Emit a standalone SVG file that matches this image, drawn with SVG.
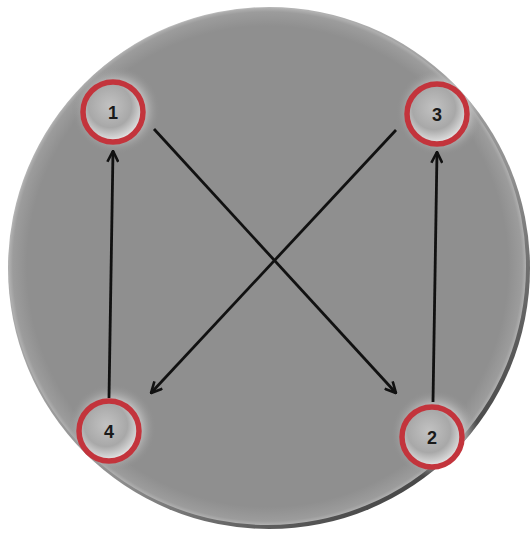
<svg xmlns="http://www.w3.org/2000/svg" width="531" height="533" viewBox="0 0 531 533">
<defs>
<radialGradient id="disc" cx="50%" cy="50%" r="50%">
<stop offset="0.93" stop-color="#8f8f8f"/>
<stop offset="0.985" stop-color="#9c9c9c"/>
<stop offset="1" stop-color="#b0b0b0"/>
</radialGradient>
<linearGradient id="rim" x1="0.2" y1="0.1" x2="0.85" y2="0.95">
<stop offset="0" stop-color="#bdbdbd"/>
<stop offset="0.6" stop-color="#8f8f8f"/>
<stop offset="1" stop-color="#3a3a3a"/>
</linearGradient>
<radialGradient id="halo" cx="50%" cy="50%" r="50%">
<stop offset="0.6" stop-color="#d2d2d2" stop-opacity="0.9"/>
<stop offset="1" stop-color="#8f8f8f" stop-opacity="0"/>
</radialGradient>
<radialGradient id="inner" cx="45%" cy="40%" r="60%">
<stop offset="0" stop-color="#c2c2c2"/>
<stop offset="0.6" stop-color="#a8a8a8"/>
<stop offset="0.88" stop-color="#d4d4d4"/>
<stop offset="1" stop-color="#f0f0f0"/>
</radialGradient>
<clipPath id="discClip"><circle cx="269" cy="268" r="261"/></clipPath>
<marker id="arr" viewBox="0 0 12 12" refX="11" refY="6" markerWidth="13" markerHeight="13" markerUnits="userSpaceOnUse" orient="auto">
<path d="M1,1 L11,6 L1,11" fill="none" stroke="#111" stroke-width="2.4"/>
</marker>
<style>
.ring{fill:url(#inner);stroke:#c3343c;stroke-width:5.5}
.halo{fill:url(#halo)}
.lbl{font-family:"Liberation Sans",Arial,sans-serif;font-weight:bold;font-size:18px;fill:#1a1a1a;text-anchor:middle;dominant-baseline:central}
.edge{stroke:#111;stroke-width:2.8;fill:none;marker-end:url(#arr)}
</style>
</defs>
<rect width="531" height="533" fill="#ffffff"/>
<circle cx="269" cy="268" r="261" fill="url(#rim)"/>
<circle cx="267.5" cy="266.5" r="258.5" fill="url(#disc)"/>
<g clip-path="url(#discClip)">
<circle class="halo" cx="116" cy="110" r="44"/>
<circle class="halo" cx="440" cy="112" r="44"/>
<circle class="halo" cx="112" cy="428" r="44"/>
<circle class="halo" cx="435" cy="434" r="44"/>
</g>
<g id="connectors">
<line class="edge" x1="109" y1="398" x2="113" y2="151"/>
<line class="edge" x1="433" y1="402" x2="437" y2="152"/>
<line class="edge" x1="154" y1="129" x2="396" y2="393"/>
<line class="edge" x1="396" y1="130" x2="151" y2="393"/>
</g>
<g id="node1">
<circle class="ring" cx="113" cy="112" r="30"/>
<text class="lbl" x="113" y="113">1</text>
</g>
<g id="node3">
<circle class="ring" cx="437" cy="114" r="30"/>
<text class="lbl" x="437" y="115">3</text>
</g>
<g id="node4">
<circle class="ring" cx="109" cy="431" r="30"/>
<text class="lbl" x="109" y="432">4</text>
</g>
<g id="node2">
<circle class="ring" cx="432" cy="437" r="30"/>
<text class="lbl" x="432" y="438">2</text>
</g>
</svg>
